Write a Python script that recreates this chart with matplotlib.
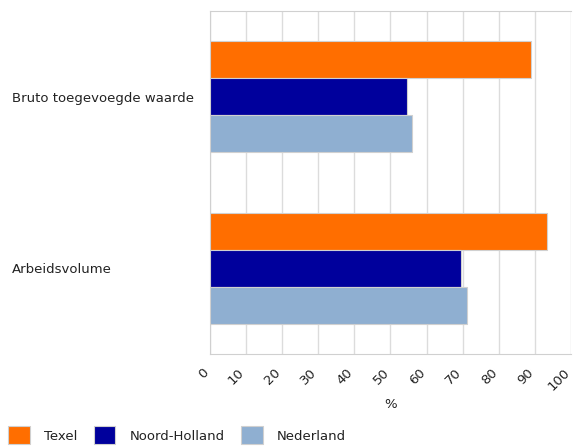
import numpy as np
import matplotlib
matplotlib.use('Agg')
import matplotlib.pyplot as plt
import matplotlib.transforms as mtransforms

categorieen = ['Bruto toegevoegde waarde', 'Arbeidsvolume']
series = ['Texel', 'Noord-Holland', 'Nederland']
texel = [88.9, 93.3]
noord_holland = [54.5, 69.4]
nederland = [56.0, 71.2]
kleuren = ['#ff6e00', '#00009c', '#8fafd1']
xticks = [0, 10, 20, 30, 40, 50, 60, 70, 80, 90, 100]

plt.rcParams['font.family'] = ['DejaVu Sans']
fs = 9.5
fig = plt.figure(figsize=(5.74, 4.46), dpi=100)
ax = fig.add_axes([0.365, 0.2063, 0.6306, 0.7697])

y = np.arange(len(categorieen))
h = 0.215
for i, (naam, waarden) in enumerate(zip(series, [texel, noord_holland, nederland])):
    ax.barh(y + (i - 1) * h, waarden, height=h, color=kleuren[i],
            edgecolor='#d0d0d0', linewidth=0.8, label=naam, zorder=3)

ax.set_ylim(1.5, -0.5)
ax.set_xlim(0, 100)
ax.set_xticks(xticks)
ax.set_xticklabels([str(t) for t in xticks], rotation=45, ha='right',
                   va='top', rotation_mode='anchor', fontsize=fs, color='#222222')
ax.tick_params(axis='x', length=0, pad=9)
offset = mtransforms.ScaledTranslation(-8 / 100, 0, fig.dpi_scale_trans)
for lbl in ax.get_xticklabels():
    lbl.set_transform(lbl.get_transform() + offset)
ax.set_yticks(y)
ax.set_yticklabels(categorieen, fontsize=fs, ha='left', color='#222222')
ax.tick_params(axis='y', length=0, pad=142)
ax.grid(axis='x', color='#dcdcdc', linewidth=1, zorder=0)
for s in ax.spines.values():
    s.set_color('#d0d0d0')
ax.spines['right'].set_visible(False)
ax.set_xlabel('%', fontsize=fs, color='#222222')
ax.xaxis.set_label_coords(0.5, -0.128)

fig.legend(loc='lower left', bbox_to_anchor=(0.005, -0.008), ncol=3, frameon=False,
           fontsize=fs, handlelength=1.65, handleheight=1.7, handletextpad=1.05,
           columnspacing=1.25, borderaxespad=0, labelcolor='#222222')

fig.savefig('out.png', dpi=100)
